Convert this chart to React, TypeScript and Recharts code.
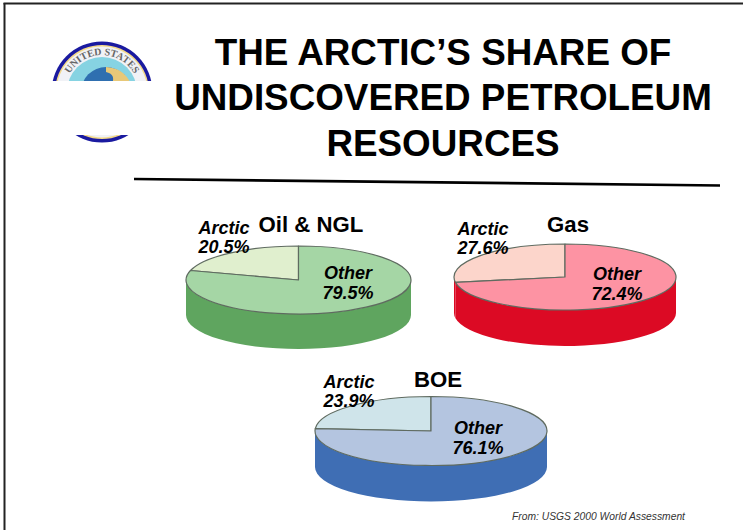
import React from 'react';
import { PieChart, Pie, Cell } from 'recharts';

const W = 743;
const H = 530;

const sliceNames = ['Arctic', 'Other'];
const oilValues = [20.5, 79.5];
const gasValues = [27.6, 72.4];
const boeValues = [23.9, 76.1];
const titleLines = ['THE ARCTIC\u2019S SHARE OF', 'UNDISCOVERED PETROLEUM', 'RESOURCES'];

const toRows = (values: number[]) => values.map((value, i) => ({ name: sliceNames[i], value }));

const rad = Math.PI / 180;

// squashed sector plus its side wall, so the pie looks like the tilted 3D one in the slide
function tiltedSector(ry: number, depth: number, wall: string) {
  return (props: any) => {
    const { cx, cy, outerRadius: rx, startAngle, endAngle, fill } = props;
    const pt = (a: number, dy = 0) => [cx + rx * Math.cos(a * rad), cy + dy - ry * Math.sin(a * rad)];
    const [sx, sy] = pt(startAngle);
    const [ex, ey] = pt(endAngle);
    const large = endAngle - startAngle > 180 ? 1 : 0;
    const top = `M${cx},${cy}L${sx},${sy}A${rx},${ry} 0 ${large} 0 ${ex},${ey}Z`;
    // the wall only shows on the front half (180..360 degrees)
    const a0 = Math.max(startAngle, 180);
    const a1 = Math.min(endAngle, 360);
    let side = null;
    if (a1 > a0) {
      const [x0, y0] = pt(a0);
      const [x1, y1] = pt(a1);
      const [x2, y2] = pt(a1, depth);
      const [x3, y3] = pt(a0, depth);
      side = `M${x0},${y0}A${rx},${ry} 0 0 0 ${x1},${y1}L${x2},${y2}A${rx},${ry} 0 0 1 ${x3},${y3}Z`;
    }
    return (
      <g>
        {side && <path d={side} fill={wall} />}
        <path d={top} fill={fill} stroke="#5f6b60" strokeWidth={1.2} strokeLinejoin="round" />
      </g>
    );
  };
}

const label = (x: number, y: number, lines: string[], gap = 19.5) => (
  <text
    x={x}
    y={y}
    textAnchor="middle"
    fontFamily="Liberation Sans"
    fontWeight="bold"
    fontStyle="italic"
    fontSize={18}
    fill="#000"
  >
    {lines.map((l, i) => (
      <tspan key={l} x={x} dy={i === 0 ? 0 : gap}>
        {l}
      </tspan>
    ))}
  </text>
);

const heading = (x: number, y: number, text: string) => (
  <text x={x} y={y} textAnchor="middle" fontFamily="Liberation Sans" fontWeight="bold" fontSize={22.2} fill="#000">
    {text}
  </text>
);

export default function App() {
  return (
    <div style={{ position: 'absolute', left: 0, top: 0, width: W, height: H, background: '#fff', overflow: 'hidden' }}>
      <svg width={W} height={H} style={{ position: 'absolute', left: 0, top: 0 }}>
        <defs>
          <clipPath id="sealClip">
            <rect x={40} y={40} width={125} height={41} />
            <rect x={40} y={135} width={125} height={10} />
          </clipPath>
          <path id="sealArc" d="M65,92 A37,37 0 0 1 139,92" />
        </defs>
        <line x1={3.5} y1={3.5} x2={743} y2={3.5} stroke="#222" strokeWidth={2} />
        <line x1={4.5} y1={3} x2={4.5} y2={530} stroke="#222" strokeWidth={2} />
        <g clipPath="url(#sealClip)">
          <circle cx={102} cy={92} r={50.5} fill="#1a1aa0" />
          <circle cx={102} cy={92} r={47} fill="#f3d98a" />
          <circle cx={102} cy={92} r={45.5} fill="#f1f2f6" />
          <circle cx={102} cy={92} r={35} fill="#86d3e2" />
          <circle cx={106} cy={92} r={25} fill="#2f6fb0" />
          <path d="M106,67 Q124,68 131,84 L112,84 Q116,74 106,72 Z" fill="#e8c878" />
          <text fontFamily="Liberation Serif" fontSize={10} fontWeight="bold" fill="#666">
            <textPath href="#sealArc" startOffset="50%" textAnchor="middle">
              UNITED STATES
            </textPath>
          </text>
        </g>
        {titleLines.map((t, i) => (
          <text
            key={t}
            x={443}
            y={64.5 + i * 45.5}
            textAnchor="middle"
            fontFamily="Liberation Sans"
            fontWeight="bold"
            fontSize={36.8}
            fill="#000"
          >
            {t}
          </text>
        ))}
        <line x1={134} y1={179} x2={720} y2={185.5} stroke="#000" strokeWidth={2.6} />
      </svg>

      <PieChart
        width={W}
        height={H}
        margin={{ top: 0, right: 0, bottom: 0, left: 0 }}
        style={{ position: 'absolute', left: 0, top: 0 }}
      >
        <Pie
          data={toRows(oilValues)}
          dataKey="value"
          cx={298.5}
          cy={280}
          outerRadius={112.5}
          startAngle={90}
          endAngle={450}
          isAnimationActive={false}
          stroke="none"
          shape={tiltedSector(34, 35, '#5fa55f')}
        >
          <Cell fill="#e0efce" />
          <Cell fill="#a5d6a5" />
        </Pie>
        <Pie
          data={toRows(gasValues)}
          dataKey="value"
          cx={565}
          cy={277}
          outerRadius={111}
          startAngle={90}
          endAngle={450}
          isAnimationActive={false}
          stroke="none"
          shape={tiltedSector(33, 36, '#dc0a24')}
        >
          <Cell fill="#fcd5cb" />
          <Cell fill="#fd93a3" />
        </Pie>
        <Pie
          data={toRows(boeValues)}
          dataKey="value"
          cx={431}
          cy={431}
          outerRadius={116}
          startAngle={90}
          endAngle={450}
          isAnimationActive={false}
          stroke="none"
          shape={tiltedSector(34.5, 36, '#3f6eb4')}
        >
          <Cell fill="#cfe4ea" />
          <Cell fill="#b4c5e0" />
        </Pie>
      </PieChart>

      <svg width={W} height={H} style={{ position: 'absolute', left: 0, top: 0 }}>
        {heading(311, 232, 'Oil & NGL')}
        {heading(568, 232, 'Gas')}
        {heading(438, 387, 'BOE')}
        {label(224, 233.5, ['Arctic', '20.5%'])}
        {label(348, 279, ['Other', '79.5%'], 20)}
        {label(483, 235, ['Arctic', '27.6%'], 18.5)}
        {label(617, 280, ['Other', '72.4%'], 20)}
        {label(349, 388, ['Arctic', '23.9%'], 18.5)}
        {label(478, 434, ['Other', '76.1%'], 20)}
        <text x={685} y={520} textAnchor="end" fontFamily="Liberation Sans" fontStyle="italic" fontSize={10.3} fill="#333">
          From: USGS 2000 World Assessment
        </text>
      </svg>
    </div>
  );
}
